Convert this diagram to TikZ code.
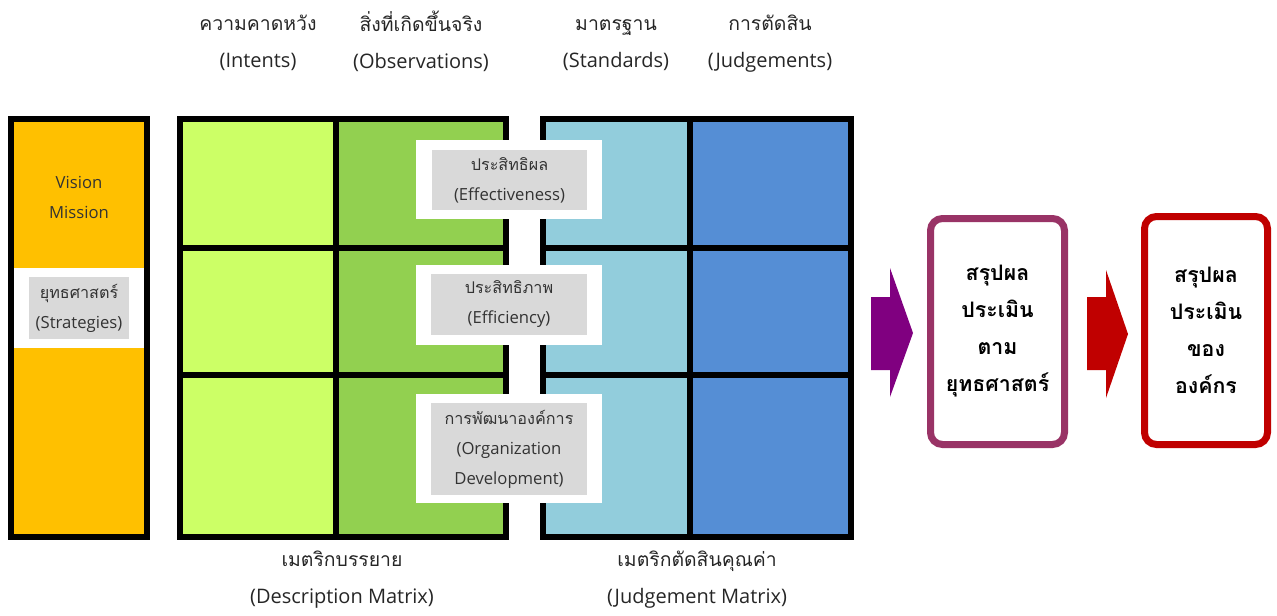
\documentclass[tikz,border=0pt]{standalone}
\usepackage{fontspec}
\setmainfont{Open Sans}
\newfontfamily\thaifont[Script=Thai,Scale=0.97]{Loma}
\usetikzlibrary{positioning}

\definecolor{visionorange}{RGB}{255,192,0}
\definecolor{intentgreen}{RGB}{204,255,102}
\definecolor{observgreen}{RGB}{146,208,80}
\definecolor{standardblue}{RGB}{146,205,220}
\definecolor{judgeblue}{RGB}{85,142,213}
\definecolor{labelgray}{RGB}{217,217,217}
\definecolor{sumplum}{RGB}{153,51,102}
\definecolor{arrowpurple}{RGB}{128,0,128}
\definecolor{orgred}{RGB}{192,0,0}

% fixed line box so every head sits on the same baselines
\newcommand\headstrut{\rule[-6.5pt]{0pt}{20pt}}

\tikzset{every picture/.style={line width=0.75pt}}
\tikzset{
  cell/.style={draw=black, line width=4.5pt},
  headlabel/.style={align=center, font=\fontsize{15}{27.75}\selectfont, text=black!85},
  graylabel/.style={fill=labelgray, align=center, inner sep=0pt, text=black!80,
    font=\fontsize{12.5}{22.5}\selectfont},
  whitepad/.style={fill=white, inner sep=0pt},
  sumbox/.style={draw, line width=5.25pt, rounded corners=9pt, fill=white, align=center,
    font=\thaifont\bfseries\fontsize{16.5}{27.75}\selectfont}
}

\begin{document}
\begin{tikzpicture}[x=0.75pt,y=0.75pt,yscale=-1,xscale=1]
\useasboundingbox (0,0) rectangle (1277,615);

%Left column: vision, mission, strategies
\draw [cell, fill=visionorange] (11,119) rectangle (147,537) ;
\fill [white] (14,268) rectangle (144,348) ;
\node [align=center, text=black!80, font=\fontsize{12.5}{22.5}\selectfont] (vision) at (79,197) {Vision\\Mission};
\node [graylabel, minimum width=75pt, minimum height=46.5pt] (strategy) at (79,308) {{\thaifont ยุทธศาสตร์}\\(Strategies)};

%Description matrix
\draw [cell, fill=intentgreen] (180,119) rectangle (336,247.5) ;
\draw [cell, fill=intentgreen] (180,247.5) rectangle (336,374.5) ;
\draw [cell, fill=intentgreen] (180,374.5) rectangle (336,537) ;
\draw [cell, fill=observgreen] (336,119) rectangle (506,247.5) ;
\draw [cell, fill=observgreen] (336,247.5) rectangle (506,374.5) ;
\draw [cell, fill=observgreen] (336,374.5) rectangle (506,537) ;

%Judgement matrix
\draw [cell, fill=standardblue] (543,119) rectangle (690,247.5) ;
\draw [cell, fill=standardblue] (543,247.5) rectangle (690,374.5) ;
\draw [cell, fill=standardblue] (543,374.5) rectangle (690,537) ;
\draw [cell, fill=judgeblue] (690,119) rectangle (851,247.5) ;
\draw [cell, fill=judgeblue] (690,247.5) rectangle (851,374.5) ;
\draw [cell, fill=judgeblue] (690,374.5) rectangle (851,537) ;

%Column heads
\node [headlabel] (intents) at (258,44) {\headstrut{\thaifont ความคาดหวัง}\\\headstrut(Intents)};
\node [headlabel] (observ) at (421,44) {\headstrut{\thaifont สิ่งที่เกิดขึ้นจริง}\\\headstrut(Observations)};
\node [headlabel] (standards) at (616,44) {\headstrut{\thaifont มาตรฐาน}\\\headstrut(Standards)};
\node [headlabel] (judgements) at (770,44) {\headstrut{\thaifont การตัดสิน}\\\headstrut(Judgements)};

%Matrix names
\node [headlabel] (descmatrix) at (342,580) {\headstrut{\thaifont เมตริกบรรยาย}\\\headstrut(Description Matrix)};
\node [headlabel] (judgematrix) at (697,580) {\headstrut{\thaifont เมตริกตัดสินคุณค่า}\\\headstrut(Judgement Matrix)};

%Row labels across the gap
\node [whitepad, minimum width=139.5pt, minimum height=59.25pt] (effpad) at (509,179.5) {};
\node [graylabel, minimum width=116.25pt, minimum height=45pt] (effect) at (509.5,180) {{\thaifont ประสิทธิผล}\\(Effectiveness)};
\node [whitepad, minimum width=139.5pt, minimum height=60pt] (efipad) at (509,305) {};
\node [graylabel, minimum width=117pt, minimum height=45.75pt] (effic) at (509,304.5) {{\thaifont ประสิทธิภาพ}\\(Efficiency)};
\node [whitepad, minimum width=139.5pt, minimum height=81.75pt] (orgpad) at (509,448.5) {};
\node [graylabel, minimum width=117pt, minimum height=69pt] (orgdev) at (509,449) {{\thaifont การพัฒนาองค์การ}\\(Organization\\Development)};

%Block arrows
\fill [arrowpurple] (871,297) -- (890,297) -- (890,268) -- (913,333) -- (890,397) -- (890,370) -- (871,370) -- cycle ;
\fill [orgred] (1087,297) -- (1106,297) -- (1106,270) -- (1128,334) -- (1106,398) -- (1106,370) -- (1087,370) -- cycle ;

%Summary boxes
\node [sumbox, draw=sumplum, minimum width=100.5pt, minimum height=169.5pt] (stratsum) at (997.5,331.5) {สรุปผล\\ประเมิน\\ตาม\\ยุทธศาสตร์};
\node [sumbox, draw=orgred, minimum width=92.25pt, minimum height=171pt] (orgsum) at (1206,330.5) {สรุปผล\\ประเมิน\\ของ\\องค์กร};
\end{tikzpicture}
\end{document}
